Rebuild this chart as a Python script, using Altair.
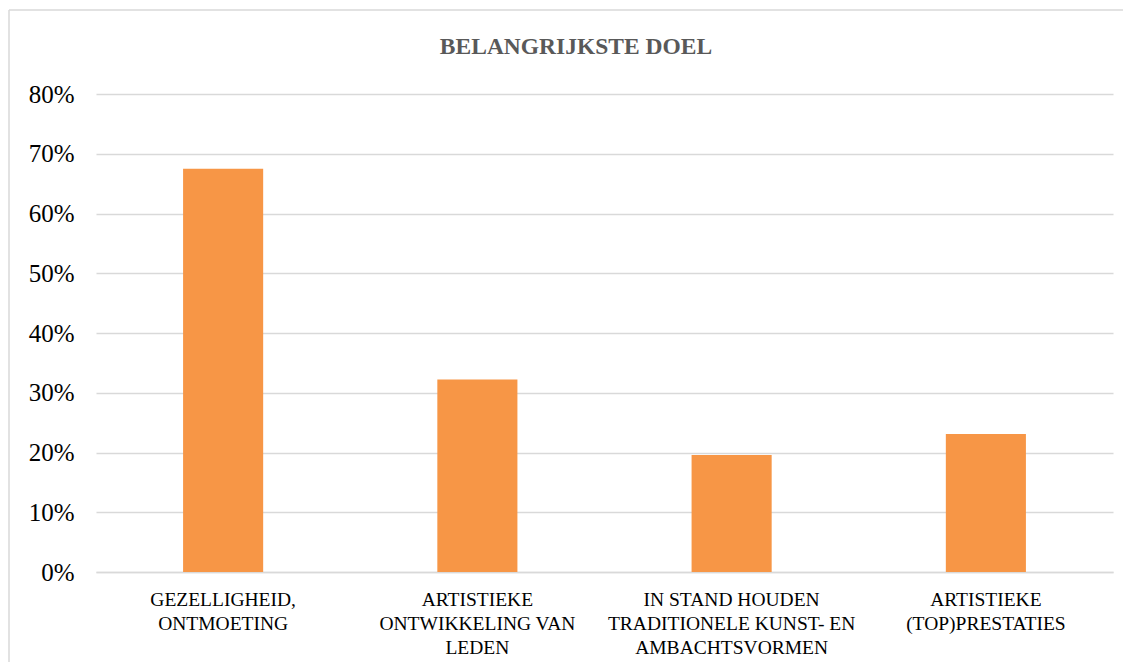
import altair as alt
import pandas as pd

title_text = ["BELANGRIJKSTE DOEL"]
categories = [
    "GEZELLIGHEID,|ONTMOETING",
    "ARTISTIEKE|ONTWIKKELING VAN|LEDEN",
    "IN STAND HOUDEN|TRADITIONELE KUNST- EN|AMBACHTSVORMEN",
    "ARTISTIEKE|(TOP)PRESTATIES",
]
values = [0.675, 0.322, 0.196, 0.231]
y_ticks = [0, 0.1, 0.2, 0.3, 0.4, 0.5, 0.6, 0.7, 0.8]

df = pd.DataFrame({"cat": categories, "val": values})
FONT = "Liberation Serif"

bars = alt.Chart(df).mark_bar(color="#F79646").encode(
    x=alt.X(
        "cat:N",
        sort=None,
        title=None,
        scale=alt.Scale(paddingInner=0.685, paddingOuter=0.3425),
        axis=alt.Axis(
            labelAngle=0,
            labelExpr="split(datum.label, '|')",
            labelFont=FONT,
            labelFontSize=19.5,
            labelColor="#000000",
            labelLineHeight=24,
            labelPadding=18,
            ticks=False,
            domainColor="#d9d9d9",
            domainWidth=1.5,
            labelLimit=300,
        ),
    ),
    y=alt.Y(
        "val:Q",
        title=None,
        scale=alt.Scale(domain=[0, 0.8], nice=False),
        axis=alt.Axis(
            values=y_ticks,
            format=".0%",
            labelFont=FONT,
            labelFontSize=25,
            labelColor="#000000",
            labelPadding=22,
            ticks=False,
            domain=False,
            gridColor="#d9d9d9",
            gridWidth=1.5,
        ),
    ),
)

one = pd.DataFrame({"a": [0]})
top_edge = alt.Chart(one).mark_rule(color="#d9d9d9", strokeWidth=1.5).encode(
    x=alt.value(-87), x2=alt.value(1100), y=alt.value(-84)
)
left_edge = alt.Chart(one).mark_rule(color="#d9d9d9", strokeWidth=1.5).encode(
    x=alt.value(-87), y=alt.value(-84), y2=alt.value(700)
)

title = alt.Chart(pd.DataFrame({"t": title_text})).mark_text(
    font=FONT, fontSize=23.5, fontWeight="bold", color="#595959",
    align="center", baseline="alphabetic"
).encode(
    text="t:N", x=alt.value(480), y=alt.value(-40)
)

chart = alt.layer(top_edge, left_edge, title, bars).properties(
    width=1017,
    height=478,
    autosize=alt.AutoSizeParams(type="none"),
    padding={"left": 88, "top": 86, "right": 10, "bottom": 90},
).configure_view(stroke=None)

chart.save("out.html", embed_options={"renderer": "svg", "actions": False})
